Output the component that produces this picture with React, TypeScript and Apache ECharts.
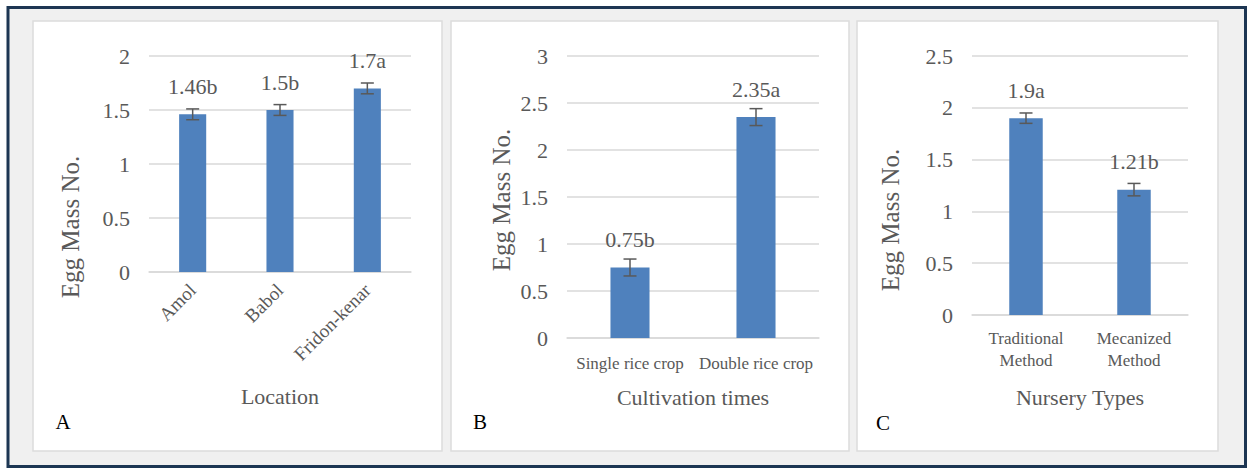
import React, { useEffect, useRef } from "react";
import * as echarts from "echarts";

// ---- data ----
const locationCats = ["Amol", "Babol", "Fridon-kenar"];
const locationVals = [1.46, 1.5, 1.7];
const locationLetters = ["b", "b", "a"];
const locationErr = [0.05, 0.05, 0.05];

const cultCats = ["Single rice crop", "Double rice crop"];
const cultVals = [0.75, 2.35];
const cultLetters = ["b", "a"];
const cultErr = [0.09, 0.09];

const nurseryCats = ["Traditional\nMethod", "Mecanized\nMethod"];
const nurseryVals = [1.9, 1.21];
const nurseryLetters = ["a", "b"];
const nurseryErr = [0.05, 0.06];

const yMax = [2, 3, 2.5];
const xTitles = ["Location", "Cultivation times", "Nursery Types"];
const yTitle = "Egg Mass No.";
const panelLetters = ["A", "B", "C"];

const FONT = "'Liberation Serif', 'Times New Roman', serif";
const GRAY = "#595959";
const BAR = "#4f81bd";
const GRID = "#d9d9d9";

export default function App() {
  const ref = useRef<HTMLDivElement>(null);

  useEffect(() => {
    if (!ref.current) return;
    const chart = echarts.init(ref.current, null, { renderer: "svg" });

    const grids = [
      { left: 149, top: 56, width: 262, height: 216 },
      { left: 567, top: 56, width: 252, height: 282 },
      { left: 972, top: 56, width: 216, height: 259 },
    ];
    const cats = [locationCats, cultCats, nurseryCats];
    const vals = [locationVals, cultVals, nurseryVals];
    const letters = [locationLetters, cultLetters, nurseryLetters];
    const errs = [locationErr, cultErr, nurseryErr];
    const nameGaps = [113, 48, 71];

    const xAxes = cats.map((c, i) => ({
      type: "category",
      gridIndex: i,
      data: c,
      axisTick: { show: false },
      axisLine: { show: true, lineStyle: { color: GRID, width: 1.5 } },
      axisLabel: {
        color: GRAY,
        fontFamily: FONT,
        fontSize: i === 0 ? 19 : 17,
        interval: 0,
        rotate: i === 0 ? 45 : 0,
        margin: i === 0 ? 15 : i === 1 ? 14 : 12,
        lineHeight: 22,
      },
      name: xTitles[i],
      nameLocation: "middle",
      nameGap: nameGaps[i],
      nameTextStyle: { color: GRAY, fontFamily: FONT, fontSize: 22 },
    }));

    const yAxes = yMax.map((m, i) => ({
      type: "value",
      gridIndex: i,
      min: 0,
      max: m,
      interval: 0.5,
      axisLine: { show: false },
      axisTick: { show: false },
      splitLine: { lineStyle: { color: GRID, width: 1.5 } },
      axisLabel: { color: GRAY, fontFamily: FONT, fontSize: 22, margin: 19 },
    }));

    const series: any[] = [];
    vals.forEach((v, i) => {
      series.push({
        type: "bar",
        xAxisIndex: i,
        yAxisIndex: i,
        data: v,
        barWidth: "31%",
        itemStyle: { color: BAR },
        label: {
          show: true,
          position: "top",
          distance: 17,
          color: GRAY,
          fontFamily: FONT,
          fontSize: 22,
          formatter: (p: any) => `${v[p.dataIndex]}${letters[i][p.dataIndex]}`,
        },
      });
      series.push({
        type: "custom",
        xAxisIndex: i,
        yAxisIndex: i,
        z: 5,
        data: v.map((val, k) => [k, val - errs[i][k], val + errs[i][k]]),
        encode: { x: 0, y: [1, 2] },
        renderItem: (params: any, api: any) => {
          const idx = api.value(0);
          const lo = api.coord([idx, api.value(1)]);
          const hi = api.coord([idx, api.value(2)]);
          const half = 6.5;
          const style = { stroke: GRAY, lineWidth: 1.5 };
          return {
            type: "group",
            children: [
              { type: "line", shape: { x1: lo[0], y1: lo[1], x2: hi[0], y2: hi[1] }, style },
              { type: "line", shape: { x1: hi[0] - half, y1: hi[1], x2: hi[0] + half, y2: hi[1] }, style },
              { type: "line", shape: { x1: lo[0] - half, y1: lo[1], x2: lo[0] + half, y2: lo[1] }, style },
            ],
          };
        },
      });
    });

    const panels = [
      { x: 33, w: 409 },
      { x: 451, w: 398 },
      { x: 857, w: 361 },
    ];
    const yTitlePos = [
      [70, 227],
      [501, 200],
      [890, 220],
    ];
    const letterPos = [
      [63, 422],
      [480, 422],
      [883, 423],
    ];

    const graphic: any[] = [
      {
        type: "rect",
        z: -100,
        shape: { x: 8, y: 7.5, width: 1237.5, height: 459 },
        style: { fill: "#f0f0f0", stroke: "#1d3653", lineWidth: 3 },
      },
      ...panels.map((p) => ({
        type: "rect",
        z: -90,
        shape: { x: p.x, y: 21, width: p.w, height: 430 },
        style: { fill: "#ffffff", stroke: "#dcdcdc", lineWidth: 1.5 },
      })),
      ...yTitlePos.map((pos) => ({
        type: "text",
        x: pos[0],
        y: pos[1],
        rotation: Math.PI / 2,
        style: {
          text: yTitle,
          fill: GRAY,
          font: `25px ${FONT}`,
          align: "center",
          verticalAlign: "middle",
        },
      })),
      ...letterPos.map((pos, i) => ({
        type: "text",
        x: pos[0],
        y: pos[1],
        style: {
          text: panelLetters[i],
          fill: "#000000",
          font: `21px ${FONT}`,
          align: "center",
          verticalAlign: "middle",
        },
      })),
    ];

    chart.setOption({
      animation: false,
      backgroundColor: "#ffffff",
      grid: grids,
      xAxis: xAxes,
      yAxis: yAxes,
      series,
      graphic,
    });

    return () => chart.dispose();
  }, []);

  return (
    <div
      ref={ref}
      style={{ position: "fixed", left: 0, top: 0, width: 1249, height: 468 }}
    />
  );
}
